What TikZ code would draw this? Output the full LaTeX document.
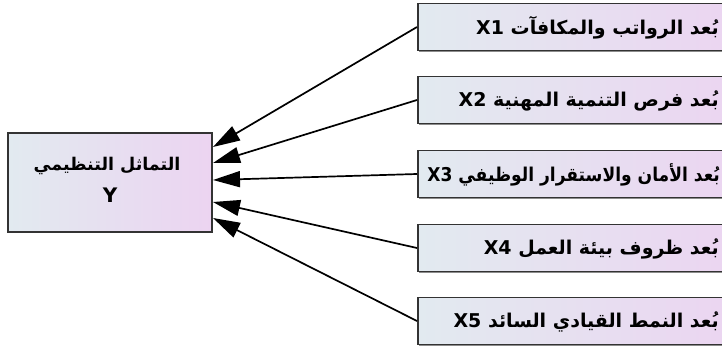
\documentclass[tikz,border=0pt]{standalone}
\usepackage{fontspec}
\usetikzlibrary{arrows.meta,shadows}
\TeXXeTstate=1
\newfontfamily\arabicfont[Script=Arabic]{DejaVu Sans}
\definecolor{boxleft}{HTML}{E2EAF0}
\definecolor{boxright}{HTML}{ECD4F1}
\definecolor{edge}{HTML}{333333}
\tikzset{
  box/.style={draw=edge, line width=1.8pt, left color=boxleft, right color=boxright,
    inner sep=0pt, general shadow={shadow xshift=1.2pt, shadow yshift=-1.2pt, fill=black!45}},
  rbox/.style={box, minimum width=330pt, minimum height=47pt, anchor=west},
  lbl/.style={font=\arabicfont\bfseries\fontsize{19}{22}\selectfont, anchor=east, inner sep=0pt},
  conn/.style={line width=1.7pt, -{Triangle[length=27pt,width=16pt]}}
}
\begin{document}
\begin{tikzpicture}[x=1pt,y=-1pt]
\useasboundingbox (0,0) rectangle (722,347);
\node[box, minimum width=204pt, minimum height=99pt] (Y) at (110,182.5) {};
\node[font=\arabicfont\bfseries\fontsize{17.5}{20}\selectfont, inner sep=0pt] (ytxt) at (107,166) {\beginR التماثل التنظيمي\endR};
\node[font=\arabicfont\bfseries\fontsize{20}{22}\selectfont, inner sep=0pt] (yy) at (110,195) {Y};
\node[rbox] (b1) at (417,27) {};
\node[rbox] (b2) at (417,100) {};
\node[rbox] (b3) at (417,174) {};
\node[rbox] (b4) at (417,248) {};
\node[rbox] (b5) at (417,321) {};
\node[lbl] (t1) at (719,28) {\beginR بُعد الرواتب والمكافآت \beginL X1\endL\endR};
\node[lbl] (t2) at (719,101) {\beginR بُعد فرص التنمية المهنية \beginL X2\endL\endR};
\node[lbl] (t3) at (720,175) {\scalebox{0.9}[1]{\beginR بُعد الأمان والاستقرار الوظيفي \beginL X3\endL\endR}};
\node[lbl] (t4) at (719,249) {\beginR بُعد ظروف بيئة العمل \beginL X4\endL\endR};
\node[lbl] (t5) at (719,322) {\beginR بُعد النمط القيادي السائد \beginL X5\endL\endR};
\coordinate (e1) at (213,147);
\coordinate (e2) at (213,163);
\coordinate (e3) at (213,180);
\coordinate (e4) at (213,202);
\coordinate (e5) at (213,218);
\draw[conn] (b1.west) -- (e1);
\draw[conn] (b2.west) -- (e2);
\draw[conn] (b3.west) -- (e3);
\draw[conn] (b4.west) -- (e4);
\draw[conn] (b5.west) -- (e5);
\end{tikzpicture}
\end{document}
